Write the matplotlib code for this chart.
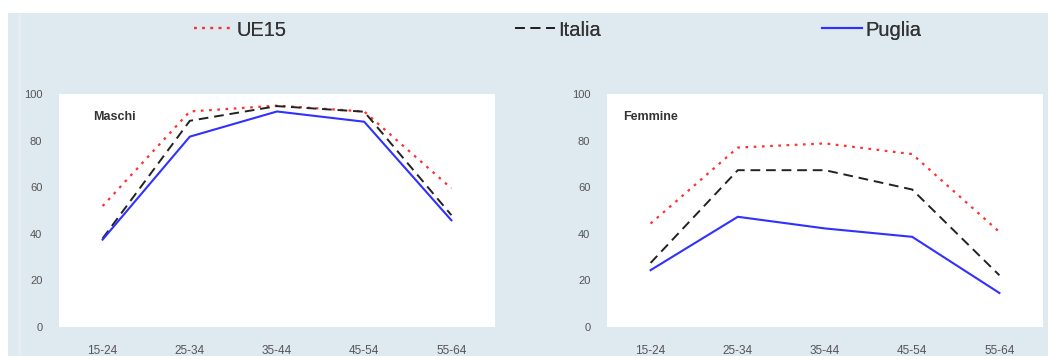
import matplotlib
matplotlib.use("Agg")
import matplotlib.pyplot as plt
from matplotlib.patches import Rectangle

categories = ["15-24", "25-34", "35-44", "45-54", "55-64"]
series_names = ["UE15", "Italia", "Puglia"]

maschi_ue15 = [51.9, 92.5, 95.0, 92.5, 59.5]
maschi_italia = [38.0, 88.5, 94.8, 92.4, 48.0]
maschi_puglia = [37.5, 81.7, 92.5, 88.1, 45.8]

femmine_ue15 = [44.4, 77.0, 78.8, 74.2, 40.8]
femmine_italia = [27.5, 67.3, 67.3, 59.0, 22.2]
femmine_puglia = [24.4, 47.3, 42.3, 38.7, 14.6]

yticks = [0, 20, 40, 60, 80, 100]

plt.rcParams['font.family'] = ['Liberation Sans', 'DejaVu Sans']

W, H = 1048, 356
fig = plt.figure(figsize=(W / 100, H / 100), dpi=100, facecolor="white")
bg = "#dfe9f0"
fig.add_artist(Rectangle((8 / W, 0), 1 - 8 / W, 1 - 13 / H, transform=fig.transFigure,
                         facecolor=bg, edgecolor="none", zorder=-10))
fig.add_artist(Rectangle((18 / W, 0), 3 / W, 1 - 13 / H, transform=fig.transFigure,
                         facecolor="#e6eef4", edgecolor="none", zorder=-9))

styles = {
    "UE15": dict(color="#ff3030", linestyle=(0, (1.2, 2.5)), linewidth=1.6),
    "Italia": dict(color="#222222", linestyle=(0, (5, 3)), linewidth=1.4),
    "Puglia": dict(color="#3030ff", linestyle="-", linewidth=1.5),
}

panels = [
    ("Maschi", [maschi_ue15, maschi_italia, maschi_puglia], 59, 0.078),
    ("Femmine", [femmine_ue15, femmine_italia, femmine_puglia], 607, 0.037),
]

x = list(range(len(categories)))
handles = []
for title, data, left_px, tx in panels:
    ax = fig.add_axes([left_px / W, 29 / H, 436 / W, 233 / H])
    ax.set_zorder(1)
    ax.set_facecolor("white")
    for name, vals in zip(series_names, data):
        h, = ax.plot(x, vals, label=name, **styles[name])
        if title == "Maschi":
            handles.append(h)
    ax.set_xlim(-0.5, len(categories) - 0.5)
    ax.set_ylim(0, 100)
    ax.set_yticks(yticks)
    ax.set_yticklabels([str(v) for v in yticks])
    ax.set_xticks(x)
    ax.set_xticklabels(categories)
    for s in ax.spines.values():
        s.set_visible(False)
    ax.tick_params(axis="y", length=0, pad=12, labelsize=8, labelcolor="#555555")
    ax.tick_params(axis="x", length=0, pad=13, labelsize=8.5, labelcolor="#555555")
    ax.text(tx, 0.90, title, transform=ax.transAxes, fontsize=9, fontweight="bold",
            color="#333333", va="center", ha="left")

leg_x = [194, 515, 822]
for h, lx in zip(handles, leg_x):
    leg = fig.legend([h], [h.get_label()], loc="center left",
                     bbox_to_anchor=(lx / W - 0.008, 1 - 30 / H), frameon=False,
                     fontsize=14.5, handlelength=2.0, handletextpad=0.15, borderaxespad=0)
    for t in leg.get_texts():
        t.set_color("#333333")
    leg.set_zorder(2)
    fig.add_artist(leg)

fig.savefig("out.png", dpi=100, facecolor="white")
